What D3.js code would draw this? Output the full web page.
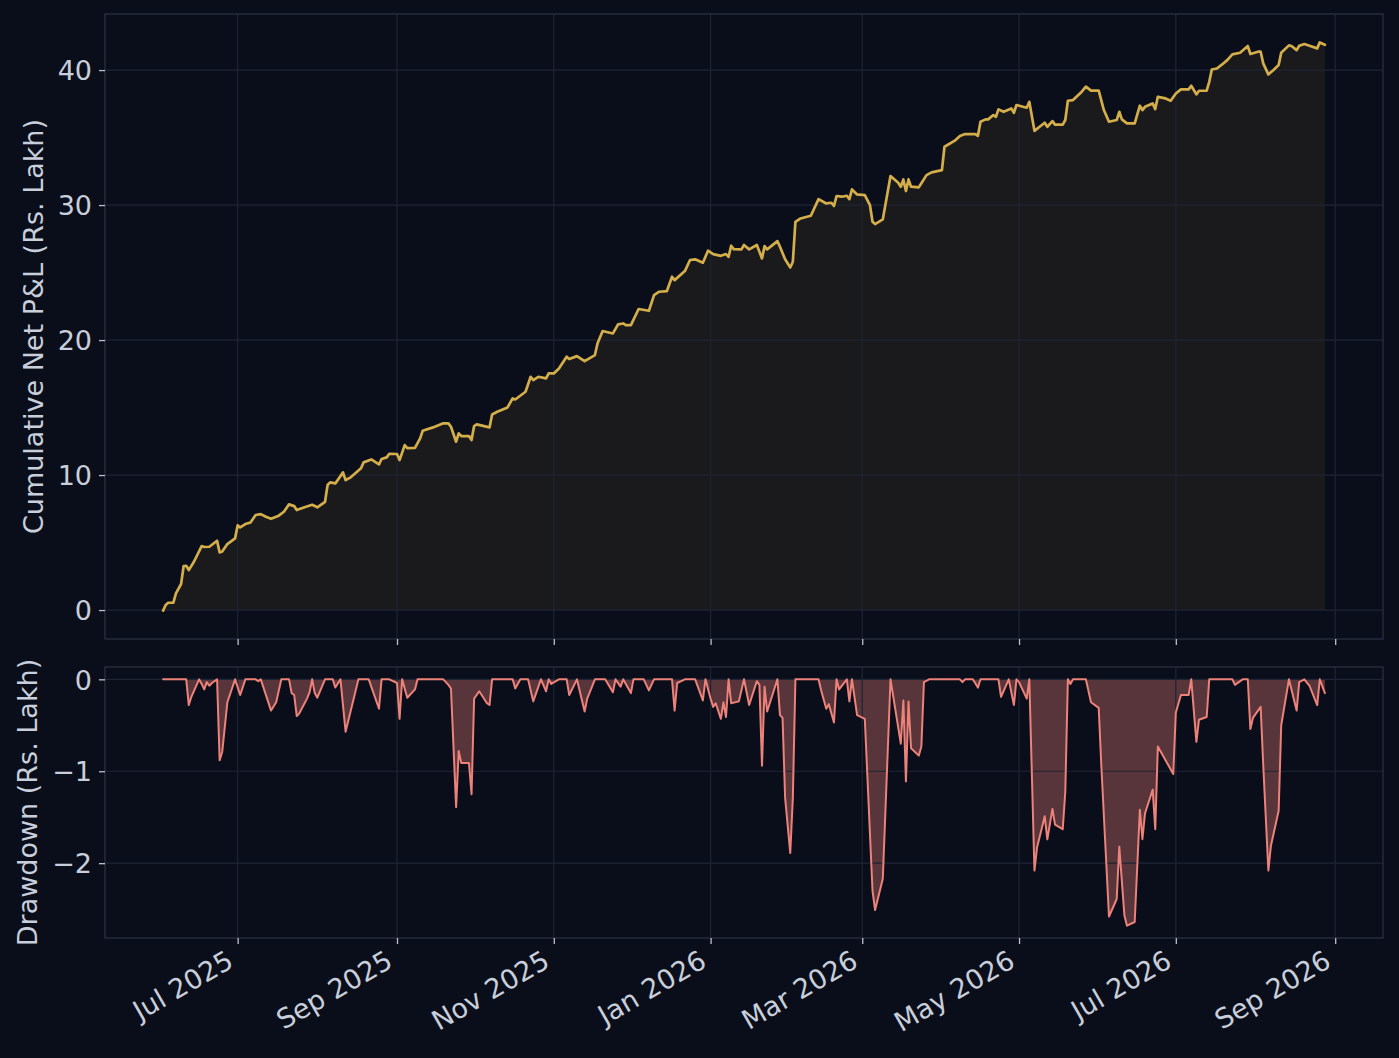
<!DOCTYPE html>
<html><head><meta charset="utf-8">
<script src="https://cdn.jsdelivr.net/npm/d3@7"></script>
<style>
html,body{margin:0;padding:0;background:#0a0e1a;}
svg{display:block;font-family:"DejaVu Sans",sans-serif;}
</style>
</head><body>
<svg id="chart" width="1399" height="1058"></svg>
<script>
// ---------- data ----------
const startDate = "2025-06-02";           // day 0
// cumulative net P&L (Rs. Lakh): day offsets and values
const pnlDays = [
  0,1,2,4,5,7,8,9,10,12,
  15,16,18,21,22,23,25,28,29,30,
  32,34,36,38,40,42,45,47,49,51,
  52,55,58,60,63,64,65,67,70,71,
  73,77,78,81,84,85,87,88,91,92,
  94,95,98,100,101,105,109,111,112,114,
  115,116,119,120,121,122,127,128,130,134,
  136,137,141,143,144,146,149,150,152,154,
  157,158,161,164,168,169,171,175,177,179,
  180,182,185,189,191,193,196,198,199,203,
  205,207,210,212,214,217,219,220,221,222,
  225,226,228,231,233,234,235,239,240,242,
  244,245,246,248,252,255,258,260,261,262,
  264,266,267,268,270,273,275,276,277,280,
  283,286,287,288,289,290,291,294,295,297,
  299,303,304,308,310,312,316,317,318,320,
  321,323,324,325,327,330,331,332,336,337,
  339,341,343,344,346,347,350,351,352,354,
  357,359,361,364,366,368,371,372,373,375,
  378,380,381,382,385,386,387,390,392,394,
  396,399,400,402,403,406,407,408,410,412,
  414,416,419,422,423,426,427,428,430,432,
  434,435,438,439,441,442,444,446,449,450,
  452
];
const pnlValues = [
  -0.04,0.37,0.54,0.55,1.23,1.93,3.26,3.28,2.96,3.58,
  4.74,4.67,4.69,5.13,4.27,4.34,4.89,5.31,6.27,6.12,
  6.37,6.49,7.04,7.11,6.91,6.76,6.99,7.28,7.83,7.70,
  7.41,7.61,7.80,7.61,8.02,9.26,9.46,9.38,10.20,9.63,
  9.83,10.50,10.94,11.16,10.79,11.19,11.31,11.58,11.56,11.11,
  12.22,12.00,12.02,12.72,13.28,13.53,13.83,13.83,13.58,12.47,
  13.09,12.89,12.89,12.59,13.63,13.75,13.53,14.49,14.69,15.01,
  15.68,15.60,16.17,17.28,17.04,17.28,17.16,17.53,17.53,17.90,
  18.77,18.59,18.81,18.44,18.89,19.75,20.67,20.49,21.16,21.23,
  21.11,21.11,22.30,22.17,23.33,23.58,23.63,24.69,24.44,25.11,
  25.93,25.98,25.73,26.62,26.37,26.24,26.37,26.17,26.99,26.74,
  26.72,27.04,26.72,27.04,26.05,26.96,26.72,27.33,26.91,25.98,
  25.38,25.80,28.76,29.01,29.21,30.44,30.12,30.17,29.93,30.67,
  30.62,30.69,30.44,31.16,30.79,30.74,30.00,28.76,28.59,28.94,
  32.15,31.65,31.36,31.90,31.04,31.90,31.36,31.31,31.61,32.22,
  32.42,32.59,34.32,34.77,35.11,35.26,35.26,35.13,36.17,36.35,
  36.35,36.67,36.54,37.09,36.91,37.16,36.84,37.41,37.21,37.65,
  35.50,35.80,36.10,35.80,36.22,35.96,35.96,36.30,37.73,37.78,
  38.32,38.77,38.48,38.48,37.04,36.17,36.30,36.91,36.35,36.05,
  36.05,37.36,37.04,37.28,37.53,37.11,38.02,37.90,37.73,38.27,
  38.57,38.57,38.84,38.20,38.47,38.47,39.13,40.04,40.12,40.42,
  40.74,41.16,41.28,41.78,41.19,41.36,41.36,40.50,39.68,40.00,
  40.37,41.28,41.83,41.78,41.48,41.80,41.93,41.80,41.61,42.05,
  41.87
];
// drawdown (Rs. Lakh): day offsets and values
const ddDays = [
  0,9,10,11,14,15,16,17,18,19,
  21,22,23,25,28,30,32,36,37,38,
  42,44,46,49,50,51,52,53,56,57,
  58,59,60,63,66,67,69,71,76,80,
  84,85,88,91,92,93,95,98,99,109,
  111,112,114,115,116,119,120,121,123,126,
  127,128,136,137,139,142,144,147,149,150,
  151,154,157,158,161,164,165,168,172,175,
  176,178,179,182,183,187,189,191,198,199,
  200,203,207,210,211,213,214,215,217,218,
  219,220,221,224,226,228,231,232,233,234,
  235,239,240,241,242,244,245,246,255,256,
  258,259,261,262,263,266,267,268,270,273,
  276,277,280,283,287,288,289,290,291,294,
  295,296,298,310,311,312,315,317,318,325,
  326,329,331,332,333,336,337,339,340,343,
  344,346,347,350,351,352,353,354,359,361,
  364,365,368,371,372,374,375,378,380,381,
  382,385,386,387,393,394,396,399,400,402,
  403,406,407,416,417,420,422,423,424,427,
  428,430,431,434,435,438,441,442,444,446,
  449,450,452
];
const ddValues = [
  0,0,-0.28,-0.19,0,-0.05,-0.11,-0.03,-0.07,-0.04,
  0,-0.88,-0.79,-0.25,0,-0.17,0,0,-0.02,0,
  -0.34,-0.25,0,0,-0.15,-0.17,-0.40,-0.37,-0.21,-0.14,
  0,-0.15,-0.20,0,0,-0.09,0,-0.57,0,0,
  -0.32,0,0,-0.04,-0.43,0,-0.20,-0.11,0,0,
  -0.06,-0.10,-1.39,-0.78,-0.91,-0.91,-1.25,-0.21,-0.13,-0.26,
  -0.28,0,0,-0.10,0,0,-0.24,0,-0.13,0,
  -0.05,0,0,-0.17,0,-0.35,-0.21,0,0,-0.14,
  0,-0.08,0,-0.15,0,0,-0.12,0,0,-0.34,
  -0.04,0,0,-0.23,0,-0.21,-0.30,-0.26,-0.43,-0.25,
  -0.41,0,-0.26,-0.24,0,-0.28,-0.02,-0.06,-0.94,-0.08,
  -0.35,0,-0.39,-0.42,-1.29,-1.89,-1.29,0,0,-0.12,
  -0.32,-0.27,-0.47,0,-0.11,0,-0.24,0,-0.39,-0.43,
  -2.30,-2.51,-2.17,0,-0.70,-0.23,-1.11,-0.24,-0.75,-0.83,
  -0.73,-0.03,0,0,-0.03,0,0,-0.09,0,0,
  -0.19,0,-0.28,0,-0.03,-0.21,0,-2.08,-1.83,-1.49,
  -1.74,-1.41,-1.58,-1.63,-1.22,0,-0.05,0,0,-0.25,
  -0.31,-0.93,-2.58,-2.39,-1.82,-2.57,-2.68,-2.64,-1.42,-1.74,
  -1.46,-1.20,-1.63,-0.73,-1.03,-0.36,-0.17,-0.17,0,-0.68,
  -0.44,-0.41,0,0,-0.06,0,0,-0.54,-0.42,-0.30,
  -0.93,-2.08,-1.81,-1.43,-0.50,0,-0.34,-0.03,0,-0.07,
  -0.28,0,-0.15
];
const xTickDates  = ["2025-07-01","2025-09-01","2025-11-01","2026-01-01","2026-03-01","2026-05-01","2026-07-01","2026-09-01"];
const xTickLabels = ["Jul 2025","Sep 2025","Nov 2025","Jan 2026","Mar 2026","May 2026","Jul 2026","Sep 2026"];
const pnlTicks = [0,10,20,30,40];
const ddTicks = [0,-1,-2];
const pnlLabel = "Cumulative Net P&L (Rs. Lakh)";
const ddLabel = "Drawdown (Rs. Lakh)";

// ---------- styling / layout ----------
const C = {
  bg:"#0a0e1a", grid:"#1e2434", spine:"#2a3142", tick:"#b9c0cd", text:"#c8cfdb",
  gold:"#d4ae4a", red:"#ec8279"
};
const L = 105, R = 1383, T1 = 14, B1 = 639, T2 = 667, B2 = 938;
const TICK = 6, FS = 27;

const parse = d3.utcParse("%Y-%m-%d");
const t0 = parse(startDate);
const toDate = d => d3.utcDay.offset(t0, d);
const pnl = pnlDays.map((d,i)=>({date:toDate(d), v:pnlValues[i]}));
const dd  = ddDays.map((d,i)=>({date:toDate(d), v:ddValues[i]}));
const tickDates = xTickDates.map(parse);

function padded(ext){ const r = ext[1]-ext[0]; return [ext[0]-0.05*r, ext[1]+0.05*r]; }
const xExt = d3.extent(pnl, d=>d.date);
const xPad = padded([+xExt[0], +xExt[1]]);
const x = d3.scaleUtc().domain([new Date(xPad[0]), new Date(xPad[1])]).range([L,R]);
const y1 = d3.scaleLinear().domain(padded(d3.extent(pnlValues))).range([B1,T1]);
const y2 = d3.scaleLinear().domain(padded(d3.extent(ddValues))).range([B2,T2]);

const svg = d3.select("#chart");
svg.append("rect").attr("width",1399).attr("height",1058).attr("fill",C.bg);

function panel(y, ticks, top, bottom, data, color, fillOpacity, lineW, label, labelX, showXLabels){
  const g = svg.append("g");
  g.append("rect").attr("x",L).attr("y",top).attr("width",R-L).attr("height",bottom-top).attr("fill",C.bg);
  // fill
  const area = d3.area().x(d=>x(d.date)).y0(y(0)).y1(d=>y(d.v));
  g.append("path").datum(data).attr("d",area).attr("fill",color).attr("fill-opacity",fillOpacity);
  // grid (above fill, below line)
  const grid = g.append("g").attr("stroke",C.grid).attr("stroke-width",1.2);
  grid.selectAll(".vx").data(tickDates).join("line")
    .attr("x1",d=>x(d)).attr("x2",d=>x(d)).attr("y1",top).attr("y2",bottom);
  grid.selectAll(".hy").data(ticks).join("line")
    .attr("x1",L).attr("x2",R).attr("y1",d=>y(d)).attr("y2",d=>y(d));
  // line
  const line = d3.line().x(d=>x(d.date)).y(d=>y(d.v));
  g.append("path").datum(data).attr("d",line).attr("fill","none")
    .attr("stroke",color).attr("stroke-width",lineW).attr("stroke-linejoin","round").attr("stroke-linecap","round");
  // spines
  g.append("rect").attr("x",L).attr("y",top).attr("width",R-L).attr("height",bottom-top)
    .attr("fill","none").attr("stroke",C.spine).attr("stroke-width",1.3);
  // y axis
  const ya = d3.axisLeft(y).tickValues(ticks).tickSize(TICK).tickPadding(7).tickFormat(d3.format("d"));
  const yg = g.append("g").attr("transform",`translate(${L},0)`).call(ya);
  yg.select(".domain").remove();
  yg.selectAll(".tick line").attr("stroke",C.tick).attr("stroke-width",1.3);
  yg.selectAll(".tick text").attr("fill",C.text).attr("font-size",FS).attr("font-family","DejaVu Sans").attr("dy","0.36em");
  // x axis
  const xa = d3.axisBottom(x).tickValues(tickDates).tickSize(TICK)
    .tickFormat((d,i)=> showXLabels ? xTickLabels[i] : "");
  const xg = g.append("g").attr("transform",`translate(0,${bottom})`).call(xa);
  xg.select(".domain").remove();
  xg.selectAll(".tick line").attr("stroke",C.tick).attr("stroke-width",1.3);
  xg.selectAll(".tick text").attr("fill",C.text).attr("font-size",FS).attr("font-family","DejaVu Sans")
    .attr("text-anchor","end").attr("y",0).attr("dy",0)
    .attr("transform","translate(-3,28) rotate(-30)");
  // y label
  g.append("text").attr("transform",`translate(${labelX},${(top+bottom)/2}) rotate(-90)`)
    .attr("text-anchor","middle").attr("fill",C.text).attr("font-size",27).text(label);
}

panel(y1, pnlTicks, T1, B1, pnl, C.gold, 0.08, 2.7, pnlLabel, 43, false);
panel(y2, ddTicks, T2, B2, dd, C.red, 0.34, 2.0, ddLabel, 37, true);
</script>
</body></html>
